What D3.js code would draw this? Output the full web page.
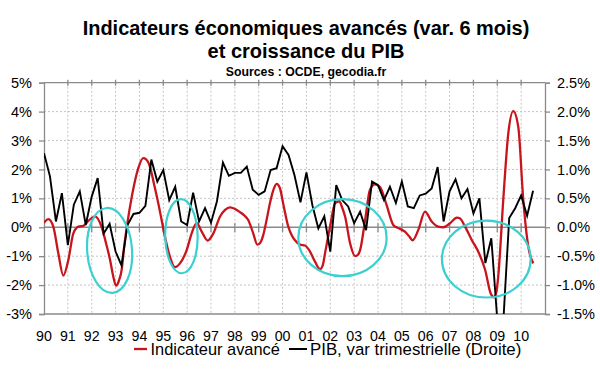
<!DOCTYPE html>
<html><head><meta charset="utf-8">
<script src="https://cdn.jsdelivr.net/npm/d3@7"></script>
<style>
html,body{margin:0;padding:0;background:#fff;}
svg{display:block;font-family:Arial,"Liberation Sans",sans-serif;}
</style></head>
<body>
<svg id="c" width="600" height="372"></svg>
<script>
// ---------------- DATA ----------------
const titleLines = ["Indicateurs économiques avancés (var. 6 mois)", "et croissance du PIB"];
const sourceText = "Sources : OCDE, gecodia.fr";
const legendLabels = ["Indicateur avancé", "PIB, var trimestrielle (Droite)"];

const yearTicks = [1990,1991,1992,1993,1994,1995,1996,1997,1998,1999,2000,2001,2002,2003,2004,2005,2006,2007,2008,2009,2010];
const yearLabels = ["90","91","92","93","94","95","96","97","98","99","00","01","02","03","04","05","06","07","08","09","10"];
const leftTicks = [-3,-2,-1,0,1,2,3,4,5];
const rightTicks = [-1.5,-1.0,-0.5,0.0,0.5,1.0,1.5,2.0,2.5];

// Leading indicator (6-month change, %, left axis)
const indDates = [1990.00,1990.18,1990.39,1990.60,1990.81,1991.02,1991.23,1991.44,1991.65,1991.86,
  1992.14,1992.42,1992.60,1992.77,1992.89,1993.02,1993.14,1993.26,1993.35,1993.47,
  1993.68,1993.95,1994.16,1994.28,1994.44,1994.61,1994.79,1994.93,1995.07,1995.28,
  1995.49,1995.70,1995.98,1996.19,1996.40,1996.61,1996.86,1997.10,1997.38,1997.59,
  1997.80,1998.01,1998.22,1998.38,1998.56,1998.77,1998.94,1999.05,1999.19,1999.33,
  1999.47,1999.62,1999.75,1999.89,2000.03,2000.24,2000.40,2000.52,2000.73,2000.94,
  2001.15,2001.36,2001.57,2001.69,2001.78,2001.99,2002.20,2002.38,2002.49,2002.62,
  2002.83,2003.04,2003.16,2003.25,2003.46,2003.66,2003.87,2004.08,2004.36,2004.64,
  2004.85,2005.13,2005.34,2005.45,2005.69,2005.97,2006.25,2006.53,2006.74,2007.02,
  2007.31,2007.44,2007.65,2007.93,2008.20,2008.49,2008.72,2008.86,2008.97,2009.04,
  2009.25,2009.46,2009.67,2009.88,2010.09,2010.30,2010.51];
const indValues = [0.15,0.28,0.02,-0.90,-1.67,-1.13,-0.21,0.02,0.05,0.22,
  0.38,0.00,-0.55,-1.13,-1.65,-2.02,-1.85,-1.45,-0.75,0.00,
  1.06,2.04,2.39,2.35,2.10,1.50,0.83,0.25,-0.33,-1.02,
  -1.38,-1.25,-0.79,-0.21,0.14,-0.15,-0.46,-0.21,0.37,0.60,
  0.69,0.63,0.52,0.42,0.25,-0.21,-0.60,-0.55,-0.27,0.25,
  0.83,1.30,1.50,1.35,0.80,0.02,-0.30,-0.45,-0.60,-0.63,
  -0.84,-1.19,-1.45,-1.30,-0.90,0.02,0.83,0.90,0.70,0.37,
  -0.55,-1.00,-0.95,-0.79,0.25,1.29,1.48,1.40,0.77,0.08,
  -0.03,-0.15,-0.35,-0.45,-0.09,0.54,0.20,0.02,0.00,0.14,
  0.33,0.30,0.02,-0.44,-0.84,-1.47,-2.28,-2.42,-2.20,-1.70,
  0.94,3.24,4.02,3.47,0.94,-0.67,-1.25];

// GDP quarterly change (%, right axis), from 1990 Q1
const gdpStart = 1990;
const gdpValues = [1.28,0.88,0.10,0.59, -0.31,0.39,0.62,0.04, 0.53,0.85,-0.11,0.06,
  -0.42,-0.66,0.04,0.23, 0.25,0.37,1.17,0.79, 0.99,0.47,0.70,0.10,
  0.04,0.60,0.10,0.33, 0.08,0.45,1.12,0.89, 0.94,0.94,1.05,0.65,
  0.56,0.62,0.99,1.02, 1.40,1.25,0.90,0.43, 0.95,0.38,-0.02,0.19,
  -0.42,0.73,0.47,0.36, 0.07,0.27,-0.05,0.79, 0.73,0.47,0.70,0.42,
  0.79,0.36,0.33,0.55, 0.58,0.67,1.04,0.10, 0.62,0.83,0.50,0.66,
  0.24,0.50,-0.62,-0.19, -1.60,-1.65,0.16,0.33, 0.55,0.20,0.63];

// highlighted zones (centre date, centre value in left-axis %, half-width in years, half-height in %)
const zoneCenters = [[1992.75,-0.80],[1995.76,-0.31],[2002.51,-0.36],[2008.54,-1.10]];
const zoneRadii = [[0.94,1.47],[0.68,1.28],[1.85,1.33],[1.86,1.33]];
const zoneTilt = [-4, -1, 0, 0];

// ---------------- CHART ----------------
const svg = d3.select("#c");
const L = 44, R = 545, T = 82.7, B = 314;
const x = d3.scaleLinear().domain([1990, 2011]).range([L, R]);
const yL = d3.scaleLinear().domain([-3, 5]).range([B, T]);
const yR = d3.scaleLinear().domain([-1.5, 2.5]).range([B, T]);

const RED = "#c8141c", CYAN = "#3ccfcf", AX = "#8a8a8a", GRID = "#c4c4c4";

svg.append("defs").append("clipPath").attr("id","clip")
  .append("rect").attr("x",L).attr("y",T).attr("width",R-L).attr("height",B-T);

// gridlines
const g = svg.append("g");
g.selectAll(".hg").data(leftTicks.filter(d => d !== 0 && d !== -3 && d !== 5)).join("line")
  .attr("x1",L).attr("x2",R).attr("y1",d=>yL(d)).attr("y2",d=>yL(d))
  .attr("stroke",GRID).attr("stroke-width",1).attr("stroke-dasharray","2,2");
g.selectAll(".vg").data(yearTicks.slice(1)).join("line")
  .attr("x1",d=>x(d)).attr("x2",d=>x(d)).attr("y1",T).attr("y2",B)
  .attr("stroke",GRID).attr("stroke-width",1).attr("stroke-dasharray","2,2");

// frame
g.append("line").attr("x1",L).attr("x2",R).attr("y1",T).attr("y2",T).attr("stroke",AX).attr("stroke-width",1.3);
g.append("line").attr("x1",L).attr("x2",R).attr("y1",B).attr("y2",B).attr("stroke",AX).attr("stroke-width",1.3);

// zero line with cross ticks
g.append("line").attr("x1",L).attr("x2",R).attr("y1",yL(0)).attr("y2",yL(0)).attr("stroke",AX).attr("stroke-width",1.6);
g.selectAll(".zt").data(yearTicks.slice(1)).join("line")
  .attr("x1",d=>x(d)).attr("x2",d=>x(d)).attr("y1",yL(0)-4).attr("y2",yL(0)+5)
  .attr("stroke",AX).attr("stroke-width",1.3);
// top cross ticks
g.selectAll(".tt").data(yearTicks.slice(1)).join("line")
  .attr("x1",d=>x(d)).attr("x2",d=>x(d)).attr("y1",T-3).attr("y2",T+3)
  .attr("stroke",AX).attr("stroke-width",1.3);

// axes
const fmtL = d => (d < 0 ? "-" : "") + Math.abs(d) + "%";
const fmtR = d => (d < 0 ? "-" : "") + Math.abs(d).toFixed(1) + "%";
const axL = svg.append("g").attr("transform",`translate(${L},0)`)
  .call(d3.axisLeft(yL).tickValues(leftTicks).tickFormat(fmtL).tickSize(5).tickPadding(7));
const axR = svg.append("g").attr("transform",`translate(${R},0)`)
  .call(d3.axisRight(yR).tickValues(rightTicks).tickFormat(fmtR).tickSize(5).tickPadding(7));
[axL, axR].forEach(a => {
  a.select(".domain").attr("stroke",AX).attr("stroke-width",1.3);
  a.selectAll(".tick line").attr("stroke",AX).attr("stroke-width",1.3);
  a.selectAll("text").attr("font-size",14.5).attr("fill","#000")
    .attr("font-family","Arial,'Liberation Sans',sans-serif");
});

// x labels
svg.append("g").selectAll("text").data(yearTicks).join("text")
  .attr("x",(d)=>x(d)).attr("y",341).attr("text-anchor","middle")
  .attr("font-size",14.2).text((d,i)=>yearLabels[i]);

// series
const plot = svg.append("g").attr("clip-path","url(#clip)");
const ind = indDates.map((d,i)=>[d, indValues[i]]);
plot.append("path").datum(ind)
  .attr("d", d3.line().x(d=>x(d[0])).y(d=>yL(d[1])).curve(d3.curveMonotoneX))
  .attr("fill","none").attr("stroke",RED).attr("stroke-width",2.3);
const gdp = gdpValues.map((v,i)=>[gdpStart + i/4, v]);
plot.append("path").datum(gdp)
  .attr("d", d3.line().x(d=>x(d[0])).y(d=>yR(d[1])))
  .attr("fill","none").attr("stroke","#000").attr("stroke-width",1.9).attr("stroke-linejoin","miter");

// highlighted zones
svg.append("g").selectAll("ellipse").data(zoneCenters).join("ellipse")
  .attr("cx",d=>x(d[0])).attr("cy",d=>yL(d[1]))
  .attr("rx",(d,i)=>x(d[0]+zoneRadii[i][0]) - x(d[0]))
  .attr("ry",(d,i)=>yL(d[1]-zoneRadii[i][1]) - yL(d[1]))
  .attr("transform",(d,i)=>`rotate(${zoneTilt[i]},${x(d[0])},${yL(d[1])})`)
  .attr("fill","none").attr("stroke",CYAN).attr("stroke-width",2.2);

// title
function fitText(sel, target) {
  const w = sel.node().getComputedTextLength();
  const fs = parseFloat(sel.attr("font-size"));
  sel.attr("font-size", fs * target / w);
}
const cx = 306;
fitText(svg.append("text").attr("x",cx).attr("y",34.5).attr("text-anchor","middle")
  .attr("font-weight","bold").attr("font-size",19).text(titleLines[0]), 447);
fitText(svg.append("text").attr("x",cx).attr("y",57.8).attr("text-anchor","middle")
  .attr("font-weight","bold").attr("font-size",19).text(titleLines[1]), 197);
fitText(svg.append("text").attr("x",cx).attr("y",76.3).attr("text-anchor","middle")
  .attr("font-weight","bold").attr("font-size",12).text(sourceText), 160.5);

// legend
const lg = svg.append("g");
lg.append("line").attr("x1",134).attr("x2",147).attr("y1",349).attr("y2",349).attr("stroke",RED).attr("stroke-width",2.3);
fitText(lg.append("text").attr("x",150.5).attr("y",355.3).attr("font-size",16.5).text(legendLabels[0]), 129.5);
lg.append("line").attr("x1",289).attr("x2",307).attr("y1",349).attr("y2",349).attr("stroke","#000").attr("stroke-width",2);
fitText(lg.append("text").attr("x",310).attr("y",355.3).attr("font-size",16.5).text(legendLabels[1]), 211.5);
</script>
</body></html>
